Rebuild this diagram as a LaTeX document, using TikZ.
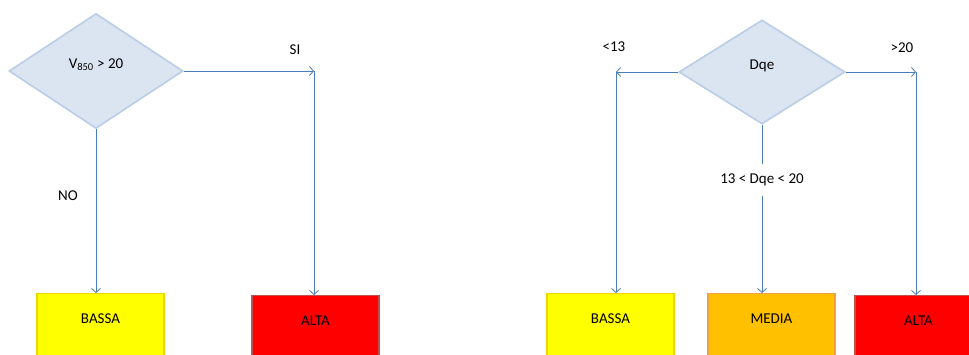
\documentclass[tikz,border=0pt]{standalone}
\usepackage{fontspec}
\setmainfont{Carlito}
\usetikzlibrary{shapes.geometric,arrows.meta}

\definecolor{flowblue}{HTML}{4A7EBB}
\definecolor{testfill}{HTML}{DBE4F1}
\definecolor{testedge}{HTML}{B9CDE5}
\definecolor{lowfill}{HTML}{FFFF00}
\definecolor{lowedge}{HTML}{EBD800}
\definecolor{midfill}{HTML}{FFC000}
\definecolor{midedge}{HTML}{F0A040}
\definecolor{highfill}{HTML}{FF0000}
\definecolor{highedge}{HTML}{C0504D}

\tikzset{
  test/.style={diamond, draw=testedge, line width=1.6pt, fill=testfill,
    inner sep=0pt, text height=8pt, text depth=13pt},
  outcome/.style={rectangle, line width=1.4pt, anchor=north, inner sep=0pt,
    minimum width=127pt, text height=30pt, text depth=50pt},
  flow/.style={draw=flowblue, line width=0.8pt,
    -{Straight Barb[length=4pt,width=9pt]}},
}

\begin{document}
\begin{tikzpicture}[x=1pt,y=-1pt,font=\fontsize{15}{17}\selectfont]
\useasboundingbox (0,0) rectangle (969,354);
\clip (0,0) rectangle (969,354);

% first test
\node [test, minimum width=174pt, minimum height=115pt] (v850) at (96,71) {V\textsubscript{850} > 20};
\node [outcome, fill=lowfill, draw=lowedge] (bassaA) at (100.5,293) {BASSA};
\node [outcome, fill=highfill, draw=highedge] (altaA) at (315.5,295) {ALTA};
\coordinate (siturn) at (314,71);

\draw[flow] (v850.east) -- (siturn);
\draw[flow] (siturn) -- (siturn |- altaA.north);
\draw[flow] (v850.south) -- (v850.south |- bassaA.north);
\node (si) at (295,50) {SI};
\node (no) at (68,196) {NO};

% second test
\node [test, minimum width=166pt, minimum height=104pt] (dqe) at (762,72) {Dqe};
\node [outcome, fill=lowfill, draw=lowedge] (bassaB) at (610.5,293) {BASSA};
\node [outcome, fill=midfill, draw=midedge] (media) at (771.5,293) {MEDIA};
\node [outcome, fill=highfill, draw=highedge] (altaB) at (918.5,295) {ALTA};
\coordinate (lowturn) at (616,72);
\coordinate (highturn) at (916,72);

\draw[flow] (dqe.west) -- (lowturn);
\draw[flow] (lowturn) -- (lowturn |- bassaB.north);
\draw[flow] (dqe.east) -- (highturn);
\draw[flow] (highturn) -- (highturn |- altaB.north);
\draw[flow] (dqe.south) -- node[pos=0.33, fill=white, inner ysep=10pt] (between) {13 < Dqe < 20} (dqe.south |- media.north);
\node (lt) at (614,47) {<13};
\node (gt) at (902,48) {>20};

\end{tikzpicture}
\end{document}
